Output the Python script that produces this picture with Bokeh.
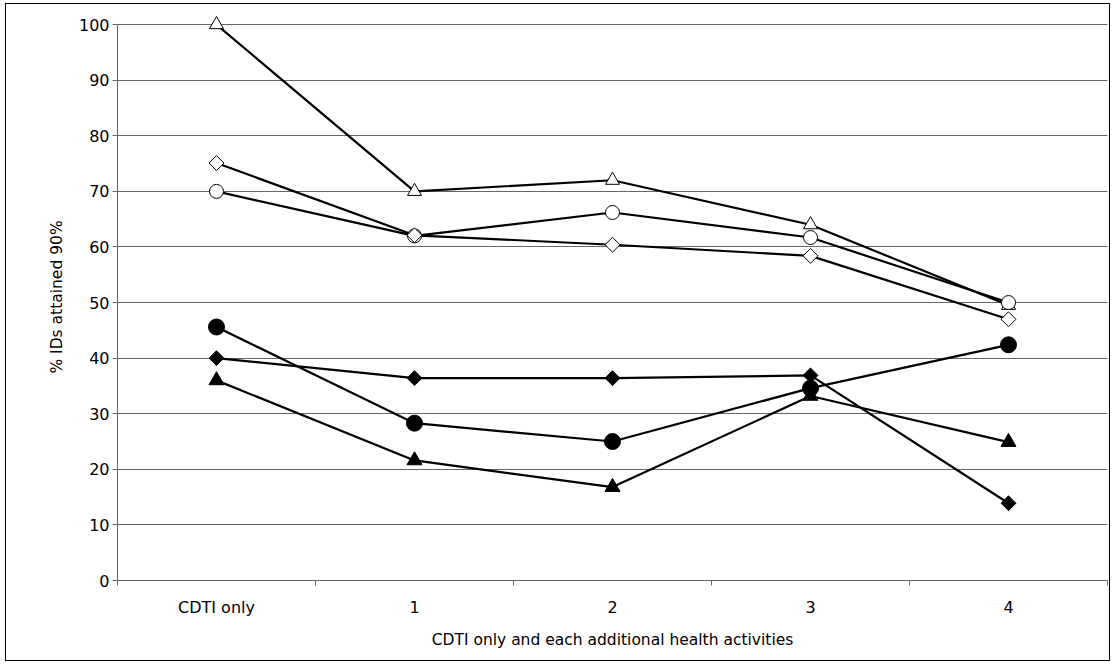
import math
from bokeh.plotting import figure
from bokeh.models import FixedTicker
from bokeh.embed import file_html
from bokeh.resources import INLINE

categories = ["CDTI only", "1", "2", "3", "4"]
open_triangle = [100, 70, 72, 64, 49.5]
open_circle = [70, 62, 66.2, 61.7, 50]
open_diamond = [75.1, 62.1, 60.4, 58.4, 47]
filled_circle = [45.6, 28.3, 25, 34.6, 42.4]
filled_diamond = [40, 36.4, 36.4, 36.9, 13.9]
filled_triangle = [36, 21.6, 16.8, 33.2, 24.9]
y_ticks = list(range(0, 101, 10))

xs = [i + 0.5 for i in range(len(categories))]

FONT = "DejaVu Sans"
AX = "#666666"

p = figure(width=1105, height=658, x_range=(0, len(categories)), y_range=(0, 102),
           output_backend="svg", toolbar_location=None,
           min_border_left=111, min_border_right=4, min_border_top=9, min_border_bottom=82)
p.styles = {"border": "1px solid black", "margin-left": "5px", "margin-top": "3px"}
p.outline_line_color = None
p.background_fill_color = "white"
p.border_fill_color = "white"

p.xgrid.visible = False
p.ygrid.grid_line_color = AX
p.ygrid.grid_line_width = 1
p.ygrid.ticker = FixedTicker(ticks=y_ticks)

# x axis
p.xaxis.ticker = FixedTicker(ticks=xs, minor_ticks=list(range(len(categories) + 1)))
p.xaxis.major_label_overrides = {x: c for x, c in zip(xs, categories)}
p.xaxis.major_tick_line_color = None
p.xaxis.major_tick_in = 0
p.xaxis.major_tick_out = 5
p.xaxis.minor_tick_in = 0
p.xaxis.minor_tick_out = 5
p.xaxis.minor_tick_line_color = AX
p.xaxis.axis_line_color = AX
p.xaxis.major_label_standoff = 12
p.xaxis.axis_label = "CDTI only and each additional health activities"
p.xaxis.axis_label_standoff = 11

# y axis
p.yaxis.ticker = FixedTicker(ticks=y_ticks, minor_ticks=[])
p.yaxis.bounds = (0, 100)
p.yaxis.major_tick_in = 0
p.yaxis.major_tick_out = 5
p.yaxis.major_tick_line_color = AX
p.yaxis.minor_tick_line_color = None
p.yaxis.axis_line_color = AX
p.yaxis.major_label_standoff = 3
p.yaxis.axis_label = "% IDs attained 90%"
p.yaxis.axis_label_standoff = 10

for ax in (p.xaxis, p.yaxis):
    ax.major_label_text_font = FONT
    ax.major_label_text_font_size = "16px"
    ax.major_label_text_color = "black"
    ax.axis_label_text_font = FONT
    ax.axis_label_text_font_size = "15.5px"
    ax.axis_label_text_font_style = "normal"
    ax.axis_label_text_color = "black"

series = [
    (open_triangle, "triangle", 14, "white", 0),
    (open_circle, "circle", 14, "white", 0),
    (open_diamond, "square", 10.5, "white", math.pi / 4),
    (filled_circle, "circle", 16, "black", 0),
    (filled_diamond, "square", 10.5, "black", math.pi / 4),
    (filled_triangle, "triangle", 15, "black", 0),
]

for vals, marker, size, fill, ang in series:
    p.line(xs, vals, line_color="black", line_width=2.2)

for vals, marker, size, fill, ang in series:
    p.scatter(xs, vals, marker=marker, size=size, fill_color=fill,
              line_color="black", line_width=1, angle=ang)

open("out.html", "w").write(file_html(p, INLINE))
